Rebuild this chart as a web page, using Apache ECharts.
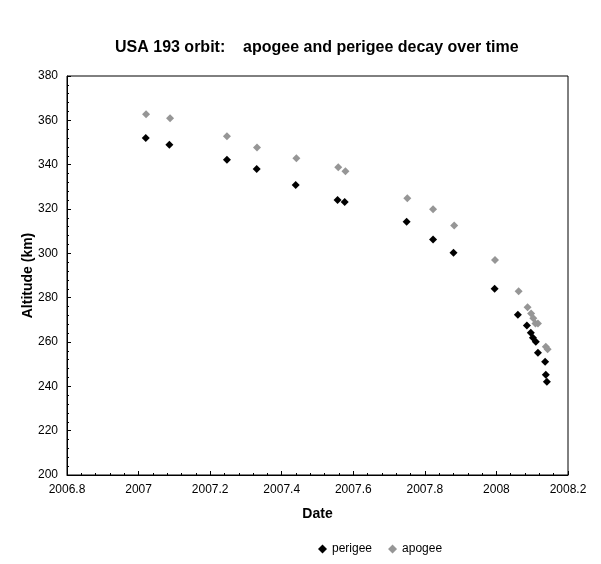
<!DOCTYPE html>
<html>
<head>
<meta charset="utf-8">
<script src="https://cdn.jsdelivr.net/npm/echarts@6/dist/echarts.min.js"></script>
<style>
html,body{margin:0;padding:0;background:#fff;}
#c{width:601px;height:564px;}
</style>
</head>
<body>
<div id="c"></div>
<script>
const perigeeDate = [2007.020, 2007.086, 2007.247, 2007.330, 2007.439, 2007.556, 2007.576, 2007.749, 2007.823, 2007.880, 2007.995, 2008.060, 2008.085, 2008.096, 2008.102, 2008.110, 2008.116, 2008.136, 2008.138, 2008.141];
const perigeeAlt  = [352.0, 349.0, 342.2, 338.0, 330.8, 324.1, 323.2, 314.3, 306.2, 300.3, 284.0, 272.3, 267.4, 264.2, 261.9, 260.1, 255.2, 251.1, 245.2, 242.1];
const apogeeDate  = [2007.021, 2007.088, 2007.247, 2007.331, 2007.441, 2007.558, 2007.578, 2007.751, 2007.823, 2007.882, 2007.996, 2008.062, 2008.087, 2008.097, 2008.103, 2008.109, 2008.116, 2008.138, 2008.143];
const apogeeAlt   = [362.7, 360.9, 352.8, 347.8, 342.9, 338.8, 337.0, 324.8, 319.9, 312.6, 297.0, 282.9, 275.7, 272.9, 270.7, 268.4, 268.4, 257.9, 256.7];
const xTicks = {min: 2006.8, max: 2008.2, interval: 0.2};
const yTicks = {min: 200, max: 380, interval: 20};

const pair = (xs, ys) => xs.map((x, i) => [x, ys[i]]);
const font = '"Liberation Sans", Arial, sans-serif';

const chart = echarts.init(document.getElementById('c'), null, {renderer: 'canvas'});
chart.setOption({
  animation: false,
  backgroundColor: '#fff',
  title: {
    text: 'USA 193 orbit:    apogee and perigee decay over time',
    left: 110, top: 35,
    textStyle: {fontFamily: font, fontSize: 16, fontWeight: 'bold', color: '#000'}
  },
  legend: {
    left: 313, top: 538,
    itemWidth: 9, itemHeight: 9, itemGap: 16,
    textStyle: {fontFamily: font, fontSize: 12, color: '#000'},
    data: [{name: 'perigee', icon: 'diamond'}, {name: 'apogee', icon: 'diamond'}]
  },
  grid: {left: 67, top: 76, width: 501, height: 399, show: true, borderColor: '#000', borderWidth: 1, backgroundColor: '#fff'},
  xAxis: {
    type: 'value', min: xTicks.min, max: xTicks.max, interval: xTicks.interval,
    name: 'Date', nameLocation: 'middle', nameGap: 32, nameMoveOverlap: false,
    nameTextStyle: {fontFamily: font, fontSize: 14, fontWeight: 'bold', color: '#000'},
    axisLine: {lineStyle: {color: '#000', width: 1}},
    axisTick: {inside: true, length: 4, lineStyle: {color: '#000'}},
    minorTick: {show: true, splitNumber: 5, length: 2, lineStyle: {color: '#000'}},
    splitLine: {show: false},
    axisLabel: {fontFamily: font, fontSize: 12, color: '#000', margin: 9,
      formatter: v => String(Math.round(v * 10) / 10)}
  },
  yAxis: {
    type: 'value', min: yTicks.min, max: yTicks.max, interval: yTicks.interval,
    name: 'Altitude (km)', nameLocation: 'middle', nameGap: 32, nameMoveOverlap: false,
    nameTextStyle: {fontFamily: font, fontSize: 14, fontWeight: 'bold', color: '#000'},
    axisLine: {lineStyle: {color: '#000', width: 1}},
    axisTick: {inside: true, length: 4, lineStyle: {color: '#000'}},
    minorTick: {show: true, splitNumber: 5, length: 2, lineStyle: {color: '#000'}},
    splitLine: {show: false},
    axisLabel: {fontFamily: font, fontSize: 12, color: '#000', margin: 9}
  },
  series: [
    {name: 'perigee', type: 'scatter', symbol: 'diamond', symbolSize: 8,
     itemStyle: {color: '#000000', opacity: 1}, data: pair(perigeeDate, perigeeAlt)},
    {name: 'apogee', type: 'scatter', symbol: 'diamond', symbolSize: 8,
     itemStyle: {color: '#969696', opacity: 1}, data: pair(apogeeDate, apogeeAlt)}
  ]
});
</script>
</body>
</html>
